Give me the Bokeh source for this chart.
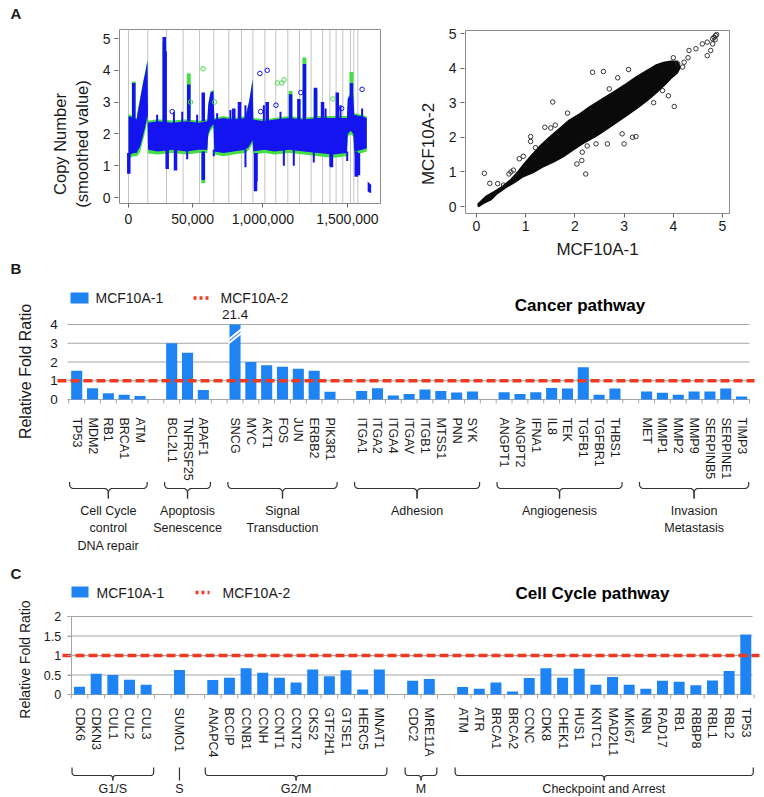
import math
from bokeh.plotting import figure
from bokeh.models import Range1d, FixedTicker
from bokeh.layouts import column, row
from bokeh.embed import file_html
from bokeh.resources import INLINE
from bokeh.core.properties import value

FONT = "Liberation Sans"
TXT = "#1a1a1a"
BAR_BLUE = "#1f84f3"
REF_RED = "#ee3b22"
GRID = "#a6a6a6"
BOX = "#8c8c8c"
CN_BLUE = "#1414f0"
CN_GREEN = "#45de45"

# ---------------- Panel A (left): copy number along the genome ----------------
cn_chrom_bounds = [0, 132000, 260000, 374000, 486000, 584000, 687000, 774000, 852000,
                   934000, 1009000, 1091000, 1171000, 1251000, 1329000, 1379000,
                   1422000, 1468000, 1520000, 1543000, 1571000]
cn_band_x = [0, 12000, 36000, 56000, 60000, 80000, 100000, 116000, 130000, 134000,
             200000, 300000, 400000, 480000, 540000, 546000, 562000, 582000, 588000,
             650000, 720000, 800000, 826000, 850000, 855000, 930000, 1000000, 1100000,
             1200000, 1300000, 1400000, 1496000, 1502000, 1522000, 1540000, 1546000,
             1600000, 1632000]
cn1_band_lo = [1.0, 1.35, 1.4, 1.4, 1.45, 1.6, 1.95, 2.25, 2.6, 1.5,
               1.45, 1.5, 1.45, 1.5, 1.5, 2.0, 2.2, 2.3, 1.45,
               1.4, 1.45, 1.5, 1.6, 1.8, 1.45, 1.5, 1.45, 1.5,
               1.45, 1.4, 1.35, 1.4, 2.0, 2.1, 2.0, 1.45,
               1.5, 1.55]
cn1_band_hi = [2.55, 2.55, 2.5, 2.45, 2.6, 3.1, 3.6, 3.95, 4.3, 2.35,
               2.4, 2.35, 2.4, 2.35, 2.4, 2.9, 3.3, 3.35, 2.45,
               2.5, 2.45, 2.5, 3.0, 3.7, 2.45, 2.4, 2.45, 2.5,
               2.45, 2.5, 2.5, 2.5, 3.1, 3.25, 3.2, 2.6,
               2.55, 2.5]
cn2_band_lo = [0.9, 1.25, 1.3, 1.3, 1.3, 1.45, 1.8, 2.1, 2.45, 1.38,
               1.35, 1.4, 1.35, 1.4, 1.4, 1.9, 2.1, 2.2, 1.35,
               1.3, 1.35, 1.4, 1.5, 1.7, 1.35, 1.4, 1.35, 1.4,
               1.35, 1.3, 1.25, 1.3, 1.9, 2.0, 1.9, 1.35,
               1.4, 1.45]
cn2_band_hi = [2.62, 2.6, 2.55, 2.5, 2.66, 3.15, 3.65, 4.0, 4.33, 2.41,
               2.46, 2.42, 2.46, 2.41, 2.46, 2.96, 3.33, 3.38, 2.5,
               2.56, 2.5, 2.56, 3.05, 3.73, 2.5, 2.46, 2.5, 2.56,
               2.5, 2.56, 2.56, 2.56, 3.15, 3.3, 3.26, 2.65,
               2.6, 2.55]
cn_tail_x = [1638000, 1650000, 1662000]
cn_tail_lo = [0.2, 0.15, 0.15]
cn_tail_hi = [0.5, 0.45, 0.4]
cn1_spike_x = [2000, 36000, 245000, 251000, 265000, 322000, 413000, 512000, 512000,
               721000, 760000, 870000, 873000, 950000, 1110000, 1167000, 1205000,
               1281000, 1329000, 1390000, 1430000, 1527000, 1560000, 1575000]
cn1_spike_lo = [0.75, 2.4, 2.3, 2.3, 0.9, 0.85, 2.4, 0.55, 2.4,
                2.4, 2.4, 0.2, 0.5, 2.4, 2.4, 2.4, 2.4,
                2.4, 2.4, 0.95, 2.4, 3.2, 0.65, 0.7]
cn1_spike_hi = [1.4, 3.6, 5.05, 4.6, 1.5, 1.5, 3.55, 1.45, 3.3,
                2.8, 3.0, 1.4, 1.4, 3.0, 3.25, 3.1, 4.2,
                3.45, 3.0, 1.4, 3.3, 3.6, 1.45, 1.4]
cn1_thin_x = [196000, 311000, 368000, 470000, 607000, 698000, 801000, 927000, 1041000,
              1350000, 1452000, 1600000, 402000, 584000, 801000, 1064000, 1132000,
              1269000, 1383000, 1498000]
cn1_thin_lo = [2.3, 2.3, 2.3, 2.3, 2.4, 2.4, 2.4, 2.4, 2.4, 2.4, 2.4, 2.4,
               1.2, 1.3, 0.95, 1.0, 1.0, 1.1, 1.0, 1.15]
cn1_thin_hi = [2.6, 2.7, 2.7, 2.6, 2.65, 2.75, 2.9, 2.9, 2.7, 2.8, 2.9, 2.8,
               1.5, 1.5, 1.5, 1.5, 1.5, 1.45, 1.4, 1.45]
cn2_spike_x = [36000, 245000, 413000, 512000, 1110000, 1205000, 1281000, 1527000]
cn2_spike_lo = [2.5, 2.4, 2.5, 0.45, 2.5, 2.5, 2.5, 3.1]
cn2_spike_hi = [3.65, 4.9, 3.9, 1.4, 3.35, 4.4, 3.4, 3.95]
cn_out_x = [950000, 900000, 1010000, 1020000, 905000, 511000, 1050000, 1065000, 1180000,
            425000, 1400000, 1460000, 590000, 1600000, 300000]
cn_out_y = [4.0, 3.9, 2.9, 3.6, 2.7, 4.05, 3.6, 3.7, 3.3, 3.0, 3.1, 2.8, 3.0, 3.4, 2.7]
cn_out_c = [CN_BLUE, CN_BLUE, CN_BLUE, CN_GREEN, CN_BLUE, CN_GREEN, CN_GREEN, CN_GREEN,
            CN_BLUE, CN_GREEN, CN_GREEN, CN_BLUE, CN_GREEN, CN_BLUE, CN_BLUE]
cn_xticks = [0, 440000, 920000, 1500000]
cn_xtick_labels = ["0", "50,000", "1,000,000", "1,500,000"]
cn_yticks = [0, 1, 2, 3, 4, 5]

# ---------------- Panel A (right): replicate vs replicate ----------------
rep_up_x = [0.03, 0.2, 0.35, 0.5, 0.7, 0.85, 0.95, 1.1, 1.3, 1.48, 1.7, 1.88, 2.1, 2.29,
            2.55, 2.83, 3.05, 3.24, 3.45, 3.64, 3.8, 3.95, 4.08]
rep_up_y = [0.07, 0.3, 0.42, 0.55, 0.78, 1.02, 1.2, 1.45, 1.76, 2.0, 2.27, 2.49, 2.68, 2.87,
            3.1, 3.35, 3.55, 3.74, 3.92, 4.08, 4.16, 4.2, 4.2]
rep_lo_x = [4.14, 4.08, 3.95, 3.85, 3.7, 3.51, 3.3, 3.1, 2.9, 2.7, 2.45, 2.15, 1.95, 1.75,
            1.55, 1.34, 1.15, 0.93, 0.8, 0.6, 0.4, 0.3, 0.15, 0.04]
rep_lo_y = [4.02, 3.86, 3.7, 3.55, 3.35, 3.11, 2.88, 2.68, 2.48, 2.29, 2.05, 1.81, 1.62, 1.43,
            1.28, 1.14, 0.98, 0.85, 0.72, 0.55, 0.35, 0.2, 0.1, 0.0]
rep_out_x = [0.16, 0.27, 0.43, 0.55, 0.66, 0.7, 0.75, 0.87, 0.95, 1.1, 1.1, 1.2, 1.39, 1.51,
             1.55, 1.6, 1.85, 2.04, 2.14, 2.22, 2.15, 2.25, 2.36, 2.58, 2.43, 2.66, 3.0,
             2.96, 3.17, 3.24, 2.87, 3.09, 3.78, 3.6, 4.02, 3.9, 4.09, 4.19, 4.22, 4.32,
             4.46, 4.59, 4.69, 4.8, 4.83, 4.8, 4.76, 4.69, 4.86, 4.88, 4.85, 4.3, 4.0, 2.7]
rep_out_y = [0.96, 0.67, 0.66, 0.62, 0.94, 1.0, 1.05, 1.38, 1.45, 2.02, 1.88, 1.7, 2.29, 2.27,
             3.02, 2.35, 2.7, 1.23, 1.33, 0.94, 1.57, 1.75, 3.88, 3.9, 1.81, 1.81, 1.81,
             2.1, 2.0, 2.02, 3.72, 3.96, 3.35, 3.0, 2.89, 3.2, 4.12, 4.03, 4.17, 4.51,
             4.56, 4.7, 4.75, 4.85, 4.89, 4.7, 4.51, 4.36, 4.94, 4.97, 4.82, 4.3, 4.3, 3.4]
rep_ticks = [0, 1, 2, 3, 4, 5]

# ---------------- Panel B: cancer pathway ----------------
b_groups = ["Cell Cycle\ncontrol\nDNA repair", "Apoptosis\nSenescence", "Signal\nTransduction",
            "Adhesion", "Angiogenesis", "Invasion\nMetastasis"]
b_genes = [["TP53", "MDM2", "RB1", "BRCA1", "ATM"],
           ["BCL2L1", "TNFRSF25", "APAF1"],
           ["SNCG", "MYC", "AKT1", "FOS", "JUN", "ERBB2", "PIK3R1"],
           ["ITGA1", "ITGA2", "ITGA4", "ITGAV", "ITGB1", "MTSS1", "PNN", "SYK"],
           ["ANGPT1", "ANGPT2", "IFNA1", "IL8", "TEK", "TGFB1", "TGFBR1", "THBS1"],
           ["MET", "MMP1", "MMP2", "MMP9", "SERPINB5", "SERPINE1", "TIMP3"]]
b_fold = [[1.53, 0.6, 0.33, 0.26, 0.19],
          [3.0, 2.49, 0.51],
          [21.4, 2.0, 1.83, 1.75, 1.64, 1.53, 0.42],
          [0.46, 0.6, 0.21, 0.3, 0.53, 0.45, 0.37, 0.43],
          [0.39, 0.3, 0.39, 0.62, 0.59, 1.72, 0.25, 0.59],
          [0.43, 0.36, 0.25, 0.43, 0.43, 0.59, 0.16]]
b_yticks = [0, 1, 2, 3, 4]
b_ytick_labels = ["0", "1", "2", "3", "4"]
b_axis_break = 4

# ---------------- Panel C: cell cycle pathway ----------------
c_groups = ["G1/S", "S", "G2/M", "M", "Checkpoint and Arrest"]
c_genes = [["CDK6", "CDKN3", "CUL1", "CUL2", "CUL3"],
           ["SUMO1"],
           ["ANAPC4", "BCCIP", "CCNB1", "CCNH", "CCNT1", "CCNT2", "CKS2", "GTF2H1", "GTSE1",
            "HERC5", "MNAT1"],
           ["CDC2", "MRE11A"],
           ["ATM", "ATR", "BRCA1", "BRCA2", "CCNC", "CDK8", "CHEK1", "HUS1", "KNTC1", "MAD2L1",
            "MKI67", "NBN", "RAD17", "RB1", "RBBP8", "RBL1", "RBL2", "TP53"]]
c_fold = [[0.2, 0.53, 0.5, 0.38, 0.25],
          [0.63],
          [0.37, 0.43, 0.67, 0.56, 0.43, 0.31, 0.64, 0.47, 0.62, 0.13, 0.64],
          [0.35, 0.40],
          [0.19, 0.15, 0.31, 0.08, 0.42, 0.67, 0.43, 0.66, 0.25, 0.45, 0.25, 0.15, 0.35, 0.33,
           0.24, 0.36, 0.6, 1.54]]
c_yticks = [0, 0.5, 1, 1.5, 2]
c_ytick_labels = ["0", "0.5", "1", "1.5", "2"]
c_axis_break = 2

series_names = ["MCF10A-1", "MCF10A-2"]
reference_level = 1.0

W = 762
ROW_TOP, FRAME_TOP, ROW_BOTTOM = 22, 28, 259   # page rows of the A panels


def bare(p):
    p.grid.visible = False
    p.outline_line_color = None


def style_r_axes(p, xticks, xlabels, yticks, ylabels):
    p.grid.visible = False
    p.outline_line_color = None
    for ax in (p.xaxis[0], p.yaxis[0]):
        ax.axis_line_color = None
        ax.major_tick_line_color = "#666666"
        ax.major_tick_out = 4
        ax.major_tick_in = 0
        ax.minor_tick_line_color = None
        ax.major_label_text_font = FONT
        ax.major_label_text_font_size = "14px"
        ax.major_label_text_color = TXT
        ax.major_label_standoff = 4
        ax.axis_label_text_font = FONT
        ax.axis_label_text_font_style = "normal"
        ax.axis_label_text_font_size = "16.5px"
        ax.axis_label_text_color = TXT
    p.xaxis[0].ticker = FixedTicker(ticks=xticks)
    p.xaxis[0].major_label_overrides = {t: l for t, l in zip(xticks, xlabels)}
    p.yaxis[0].ticker = FixedTicker(ticks=yticks)
    p.yaxis[0].major_label_overrides = {t: l for t, l in zip(yticks, ylabels)}


# ---- strip with panel letter A
pAtop = figure(width=W, height=ROW_TOP, x_range=Range1d(0, W), y_range=Range1d(ROW_TOP, 0),
               x_axis_location=None, y_axis_location=None, output_backend="svg",
               toolbar_location=None, min_border=0)
bare(pAtop)
pAtop.text(x=[10], y=[13], text=["A"], text_font=value(FONT), text_font_size="15px",
           text_font_style="bold", text_color=TXT, text_align="left", text_baseline="middle")


# ---- A left: pixel <-> data helpers (0 at x=128 px, 6849 units per px; 0 at y=197 px, 31.8 px per unit)
def a1x(px):
    return (px - 128.0) * 6849.0


def a1y(py):
    return (197.0 - py) / 31.8


a1_box = (a1x(119), a1x(380), a1y(203), a1y(29))
pA1 = figure(width=382, height=ROW_BOTTOM - ROW_TOP,
             x_range=Range1d(a1x(118), a1x(381)), y_range=Range1d(a1y(ROW_BOTTOM), a1y(FRAME_TOP)),
             output_backend="svg", toolbar_location=None,
             min_border_left=118, min_border_right=1, min_border_top=FRAME_TOP - ROW_TOP,
             min_border_bottom=0)
style_r_axes(pA1, cn_xticks, cn_xtick_labels, cn_yticks, [str(t) for t in cn_yticks])
pA1.xaxis[0].fixed_location = a1_box[2]
pA1.xaxis[0].major_label_standoff = 6
pA1.yaxis[0].axis_label = "Copy Number\n(smoothed value)"
pA1.yaxis[0].axis_label_standoff = 9
pA1.segment(x0=cn_chrom_bounds, y0=a1_box[2], x1=cn_chrom_bounds, y1=a1_box[3],
            line_color="#c4c4c4", line_width=1)
pA1.varea(x=cn_band_x, y1=cn2_band_lo, y2=cn2_band_hi, fill_color=CN_GREEN)
pA1.segment(x0=cn2_spike_x, y0=cn2_spike_lo, x1=cn2_spike_x, y1=cn2_spike_hi,
            line_color=CN_GREEN, line_width=4)
pA1.varea(x=cn_band_x, y1=cn1_band_lo, y2=cn1_band_hi, fill_color=CN_BLUE)
pA1.segment(x0=cn1_spike_x, y0=cn1_spike_lo, x1=cn1_spike_x, y1=cn1_spike_hi,
            line_color=CN_BLUE, line_width=3.5)
pA1.segment(x0=cn1_thin_x, y0=cn1_thin_lo, x1=cn1_thin_x, y1=cn1_thin_hi,
            line_color=CN_BLUE, line_width=2)
pA1.varea(x=cn_tail_x, y1=cn_tail_lo, y2=cn_tail_hi, fill_color=CN_BLUE)
pA1.scatter(x=cn_out_x, y=cn_out_y, marker="circle", size=4.5, fill_color=None,
            line_color=cn_out_c, line_width=1)
pA1.quad(left=[a1_box[0]], right=[a1_box[1]], bottom=[a1_box[2]], top=[a1_box[3]],
         fill_color=None, line_color=BOX, line_width=1)


# ---- A right: pixel <-> data helpers (0 at x=476 px, 49.2 px/unit; 0 at y=206 px, 34.6 px/unit)
def a2x(px):
    return (px - 476.0) / 49.2


def a2y(py):
    return (206.0 - py) / 34.6


a2_box = (a2x(465), a2x(729), a2y(213), a2y(30))
pA2 = figure(width=380, height=ROW_BOTTOM - ROW_TOP,
             x_range=Range1d(a2x(464), a2x(730)), y_range=Range1d(a2y(ROW_BOTTOM), a2y(FRAME_TOP)),
             output_backend="svg", toolbar_location=None,
             min_border_left=464 - 382, min_border_right=762 - 730,
             min_border_top=FRAME_TOP - ROW_TOP, min_border_bottom=0)
style_r_axes(pA2, rep_ticks, [str(t) for t in rep_ticks], rep_ticks, [str(t) for t in rep_ticks])
pA2.xaxis[0].fixed_location = a2_box[2]
pA2.xaxis[0].major_label_standoff = 3
pA2.yaxis[0].axis_label = series_names[1]
pA2.yaxis[0].axis_label_standoff = 8
pA2.yaxis[0].axis_label_text_font_size = "17px"
pA2.quad(left=[a2_box[0]], right=[a2_box[1]], bottom=[a2_box[2]], top=[a2_box[3]],
         fill_color=None, line_color=BOX, line_width=1)
pA2.patch(x=rep_up_x + rep_lo_x, y=rep_up_y + rep_lo_y, fill_color="#0a0a0a",
          line_color="#0a0a0a", line_width=1.5)
pA2.scatter(x=rep_out_x, y=rep_out_y, marker="circle", size=4.5, fill_color=None,
            line_color="#222222", line_width=0.9)
# x-axis title under the pinned axis
pA2.text(x=[(a2_box[0] + a2_box[1]) / 2], y=[a2y(249)], text=[series_names[0]],
         text_font=value(FONT), text_font_size="17px", text_color=TXT,
         text_align="center", text_baseline="middle")


def build_factors(groups):
    factors, spans = [], []
    for gi, genes in enumerate(groups):
        if gi:
            factors.append("")
        first = len(factors)
        factors.extend(genes)
        spans.append((first, len(factors) - 1))
    return factors, spans


def bar_panel(genes, folds, groups, yticks, ylabels, axis_break, cfg):
    factors, spans = build_factors(genes)
    n = len(factors)
    L, R = cfg["L"], cfg["R"]
    slot = (R - L) / n
    ppu, top, base, bottom = cfg["ppu"], cfg["top"], cfg["base"], cfg["bottom"]

    def X(px):
        return (px - L) / slot

    def Y(py):
        return (base - py) / ppu

    p = figure(width=W, height=bottom - top,
               x_range=Range1d(X(0), X(W)), y_range=Range1d(Y(bottom), Y(top)),
               output_backend="svg", toolbar_location=None, min_border=0)
    bare(p)
    # value axis, drawn at the left edge of the category area
    yax = p.yaxis[0]
    yax.fixed_location = 0
    yax.ticker = FixedTicker(ticks=yticks)
    yax.major_label_overrides = {t: l for t, l in zip(yticks, ylabels)}
    yax.minor_tick_line_color = None
    yax.major_label_text_font = FONT
    yax.major_label_text_font_size = cfg["yfont"]
    yax.major_label_text_color = TXT
    yax.major_label_standoff = cfg["ystand"]
    if cfg["yline"]:
        yax.bounds = (yticks[0], yticks[-1])
        yax.axis_line_color = GRID
        yax.major_tick_line_color = GRID
        yax.major_tick_out = 4
        yax.major_tick_in = 0
    else:
        yax.axis_line_color = None
        yax.major_tick_line_color = None
        yax.major_tick_out = 0
        yax.major_tick_in = 0
    # category axis, drawn along the zero line
    xax = p.xaxis[0]
    xax.fixed_location = 0
    xax.ticker = FixedTicker(ticks=[i + 0.5 for i, f in enumerate(factors) if f])
    xax.major_label_overrides = {i + 0.5: f for i, f in enumerate(factors) if f}
    xax.axis_line_color = None
    xax.major_tick_line_color = None
    xax.minor_tick_line_color = None
    xax.major_tick_out = 0
    xax.major_tick_in = 0
    xax.major_label_orientation = "vertical"
    xax.major_label_text_font = FONT
    xax.major_label_text_font_size = "12.5px"
    xax.major_label_text_color = TXT
    xax.major_label_standoff = cfg["xstand"]

    # horizontal grid lines at the value ticks
    gl = cfg["grid_lr"]
    p.segment(x0=X(gl[0]), y0=yticks, x1=X(gl[1]), y1=yticks, line_color=GRID, line_width=1)
    # category tick marks between slots
    bounds = list(range(n + 1))
    p.segment(x0=bounds, y0=0, x1=bounds, y1=Y(base + 4), line_color=GRID, line_width=1)

    flat_genes = [g for grp in genes for g in grp]
    flat_fold = [v for grp in folds for v in grp]
    xs = [factors.index(g) + 0.5 for g in flat_genes]
    shown = [min(v, axis_break) for v in flat_fold]
    p.vbar(x=xs, top=shown, width=cfg["bw"], fill_color=BAR_BLUE, line_color=None)

    # broken bars
    for c, v in zip(xs, flat_fold):
        if v > axis_break:
            hw = cfg["bw"] / 2 + 0.05
            p.segment(x0=[c - hw, c - hw], y0=[axis_break * 0.75, axis_break * 0.8],
                      x1=[c + hw, c + hw], y1=[axis_break * 0.885, axis_break * 0.935],
                      line_color="white", line_width=2)
            p.text(x=[c], y=[Y(cfg["brk_label_y"])], text=[f"{v:g}"], text_font=value(FONT),
                   text_font_size="13.5px", text_color=TXT, text_align="center",
                   text_baseline="middle")

    # reference series (MCF10A-2)
    rl = cfg["ref_lr"]
    p.line(x=[X(rl[0]), X(rl[1])], y=[reference_level, reference_level], line_color=REF_RED,
           line_width=3.5, line_dash="9 4")

    # legend
    lg = cfg["legend"]
    p.quad(left=[X(lg["box"][0])], right=[X(lg["box"][1])], bottom=[Y(lg["box"][3])],
           top=[Y(lg["box"][2])], fill_color=BAR_BLUE, line_color=None)
    p.line(x=[X(lg["dash"][0]), X(lg["dash"][1])], y=[Y(lg["y"])] * 2, line_color=REF_RED,
           line_width=3.5, line_dash="3 3")
    p.text(x=[X(lg["t1"]), X(lg["t2"])], y=[Y(lg["y"])] * 2, text=series_names,
           text_font=value(FONT), text_font_size="14px", text_color=TXT,
           text_align="left", text_baseline="middle")
    p.text(x=[X(cfg["title_xy"][0])], y=[Y(cfg["title_xy"][1])], text=[cfg["title"]],
           text_font=value(FONT), text_font_size="17px", text_font_style="bold",
           text_color="#000000", text_align="center", text_baseline="middle")
    p.text(x=[X(cfg["letter_xy"][0])], y=[Y(cfg["letter_xy"][1])], text=[cfg["letter"]],
           text_font=value(FONT), text_font_size="15px", text_font_style="bold",
           text_color=TXT, text_align="left", text_baseline="middle")
    p.text(x=[X(cfg["ytitle_xy"][0])], y=[Y(cfg["ytitle_xy"][1])], text=["Relative Fold Ratio"],
           angle=math.pi / 2, text_font=value(FONT), text_font_size=cfg["ytitle_font"],
           text_color=TXT, text_align="center", text_baseline="middle")

    # group braces below the gene names
    bt, bm, bb, r = cfg["brace"]
    rx = r / slot
    bxs, bys, cx = [], [], []
    for first, last in spans:
        if first == last:
            c = first + 0.5
            bxs.append([c, c])
            bys.append([Y(bt), Y(bb)])
            cx.append(c)
            continue
        x0 = first + 0.5 - 0.45
        x1 = last + 0.5 + 0.45
        xc = (x0 + x1) / 2
        cx.append(xc)
        for sgn, xe in ((1, x0), (-1, x1)):
            px, py = [xe], [bt]
            ccx, ccy = xe + sgn * rx, bm - r
            for k in range(7):
                th = math.pi - (math.pi / 2) * k / 6
                px.append(ccx + sgn * rx * math.cos(th))
                py.append(ccy + r * math.sin(th))
            ccx2, ccy2 = xc - sgn * rx, bm + r
            for k in range(7):
                th = -math.pi / 2 + (math.pi / 2) * k / 6
                px.append(ccx2 + sgn * rx * math.cos(th))
                py.append(ccy2 + r * math.sin(th))
            px.append(xc)
            py.append(bb)
            bxs.append(px)
            bys.append([Y(v) for v in py])
    p.multi_line(xs=bxs, ys=bys, line_color="#333333", line_width=1.2)
    p.text(x=cx, y=[Y(cfg["group_label_y"])] * len(cx), text=groups, text_font=value(FONT),
           text_font_size="12.5px", text_color=TXT, text_align="center",
           text_baseline="top", text_line_height=cfg["lh"])
    return p


b_cfg = dict(top=ROW_BOTTOM, base=399, bottom=552, L=68.3, R=749.0, ppu=18.75,
             ystand=11, yline=False, xstand=18, bw=0.7, yfont="13.5px",
             grid_lr=(67, 749), ref_lr=(57, 754), brk_label_y=313.5,
             legend=dict(box=(70, 88, 292, 303), dash=(193, 208), y=297.5, t1=95, t2=220),
             title="Cancer pathway", title_xy=(579.5, 305), letter="B", letter_xy=(10, 268),
             ytitle_xy=(25, 371), ytitle_font="16px",
             brace=(481.5, 488, 498, 4), group_label_y=503, lh=1.27)
pB = bar_panel(b_genes, b_fold, b_groups, b_yticks, b_ytick_labels, b_axis_break, b_cfg)

c_cfg = dict(top=552, base=694, bottom=796, L=70.7, R=753.6, ppu=39.0,
             ystand=6, yline=True, xstand=13, bw=0.66, yfont="12.5px",
             grid_lr=(67, 752), ref_lr=(62, 759), brk_label_y=600,
             legend=dict(box=(71, 88, 586, 597), dash=(195, 209), y=592, t1=96, t2=222),
             title="Cell Cycle pathway", title_xy=(592, 593), letter="C", letter_xy=(10, 573),
             ytitle_xy=(24.5, 659), ytitle_font="14px",
             brace=(767, 775, 780, 3), group_label_y=781.5, lh=1.2)
pC = bar_panel(c_genes, c_fold, c_groups, c_yticks, c_ytick_labels, c_axis_break, c_cfg)

layout = column(pAtop, row(pA1, pA2), pB, pC)
open("out.html", "w").write(file_html(layout, INLINE))
